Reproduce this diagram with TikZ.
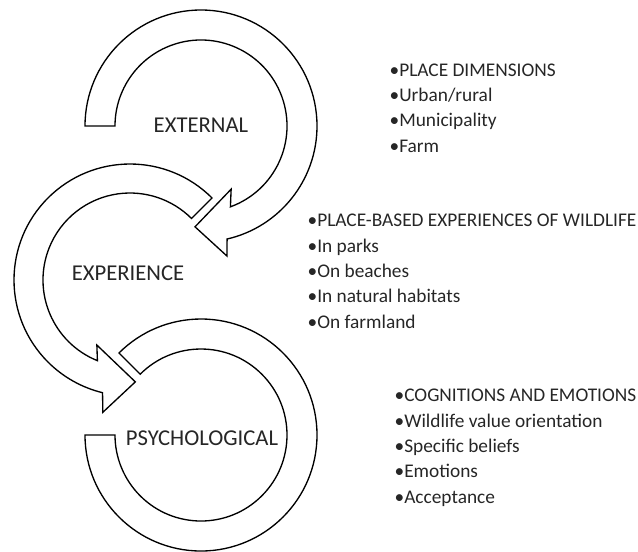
\documentclass[tikz,border=0pt]{standalone}
\usepackage{fontspec}
\setmainfont{Carlito}
\begin{document}
\begin{tikzpicture}[x=0.75pt,y=0.75pt,line width=1pt,
  lbl/.style={font=\fontsize{17}{20}\selectfont,text=black!85,inner sep=0pt},
  lst/.style={font=\fontsize{14.5}{19}\selectfont,text=black!85,align=left,anchor=base west,inner sep=0pt}]
\useasboundingbox (0,0) rectangle (638,-551);
\draw[shift={(201,-126)}] (180:116) arc (180:-77:116) -- (-78.7:132.6) -- (-93.4:101) -- (-64.5:70) -- (-70:86) arc (-70:180:86) -- cycle;
\draw[shift={(130,-280)}] (45:116) arc (45:256.3:116) -- (258.4:135) -- (273:102) -- (243:73) -- (248:87) arc (248:45:87) -- cycle;
\draw[shift={(201,-435)}] (180:116) arc (180:495:116) -- (495:86) arc (495:180:86) -- cycle;
\node[lbl] (ext) at (201,-125) {EXTERNAL};
\node[lbl] (exp) at (128,-273) {EXPERIENCE};
\node[lbl] (psy) at (202,-438) {PSYCHOLOGICAL};
\node[lst] (place) at (389,-152) {•PLACE DIMENSIONS\\•Urban/rural\\•Municipality\\•Farm};
\node[lst] (wild) at (307,-328) {•PLACE-BASED EXPERIENCES OF WILDLIFE\\•In parks\\•On beaches\\•In natural habitats\\•On farmland};
\node[lst] (cogn) at (394,-503) {•COGNITIONS AND EMOTIONS\\•Wildlife value orientation\\•Specific beliefs\\•Emotions\\•Acceptance};
\end{tikzpicture}
\end{document}
